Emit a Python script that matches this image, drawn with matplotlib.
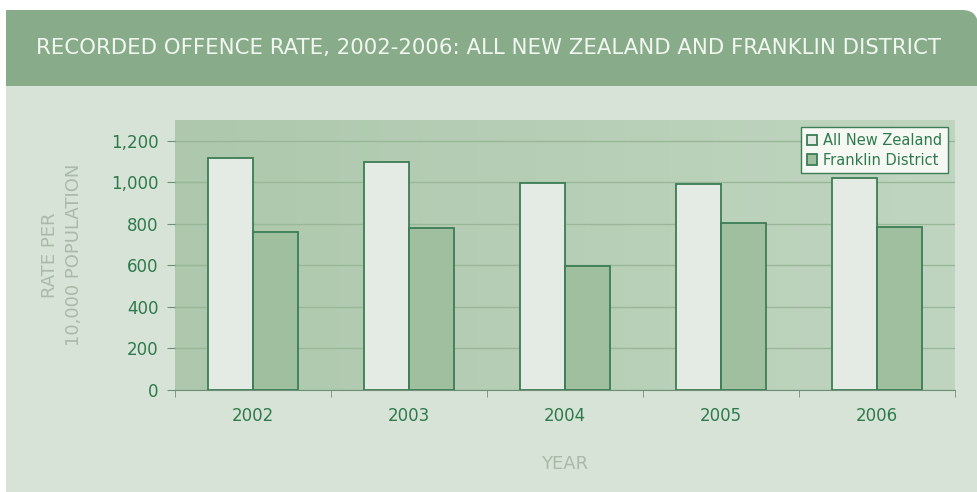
import numpy as np
import matplotlib.pyplot as plt
from matplotlib.colors import LinearSegmentedColormap
from matplotlib.patches import FancyBboxPatch, Rectangle

years = ["2002", "2003", "2004", "2005", "2006"]
all_nz = [1115, 1099, 998, 994, 1022]
franklin = [760, 778, 595, 802, 787]

dark_green = "#2f7a4c"
edge_green = "#3c7d55"
panel_bg = "#d6e3d6"
header_bg = "#88ac8a"

fig = plt.figure(figsize=(9.78, 4.92), dpi=100)
fig.patch.set_facecolor("white")

# card background + header band, in inches (100 px per inch)
inch = fig.dpi_scale_trans
fig.patches.append(Rectangle((0.06, 0), 9.8, 4.3, transform=inch, facecolor=panel_bg, edgecolor="none", zorder=-4))
fig.patches.append(Rectangle((0.06, 4.06), 9.2, 0.76, transform=inch, facecolor=header_bg, edgecolor="none", zorder=-3))
fig.patches.append(FancyBboxPatch((9.0, 4.06), 0.78, 0.76, boxstyle="round,pad=0,rounding_size=0.16",
                                  transform=inch, facecolor=header_bg, edgecolor="none", zorder=-3))
fig.patches.append(Rectangle((9.0, 4.06), 0.78, 0.3, transform=inch, facecolor=header_bg, edgecolor="none", zorder=-3))

fig.text(0.5, (492 - 48) / 492, "RECORDED OFFENCE RATE, 2002-2006: ALL NEW ZEALAND AND FRANKLIN DISTRICT",
         ha="center", va="center", color="#f2f6f0", fontsize=15.3)

ax = fig.add_axes([175 / 978, (492 - 390) / 492, (955 - 175) / 978, 270 / 492])
ax.set_zorder(1)
ax.set_facecolor("#b7cfb7")
# soft horizontal shading of the plot area
grad = np.linspace(0, 1, 256).reshape(1, -1)
cmap = LinearSegmentedColormap.from_list("g", ["#adc8ad", "#c0d5c0"])
ax.imshow(grad, extent=[-0.5, 4.5, 0, 1300], aspect="auto", cmap=cmap, zorder=0)

x = np.arange(len(years))
w = 0.29
ax.bar(x - w / 2, all_nz, w, color="#e4ebe4", edgecolor=edge_green, linewidth=1.3, label="All New Zealand", zorder=3)
ax.bar(x + w / 2, franklin, w, color="#9fbf9f", edgecolor=edge_green, linewidth=1.3, label="Franklin District", zorder=3)

ax.set_xlim(-0.5, 4.5)
ax.set_ylim(0, 1300)
ax.set_yticks([0, 200, 400, 600, 800, 1000, 1200])
ax.set_yticklabels(["0", "200", "400", "600", "800", "1,000", "1,200"])
ax.yaxis.grid(True, color="#98b898", linewidth=1, zorder=1)
ax.set_axisbelow(True)
ax.set_xticks(x)
ax.set_xticklabels(years)
ax.set_xticks(np.arange(-0.5, 5, 1), minor=True)
ax.tick_params(axis="x", which="major", length=0, pad=12, labelsize=12, labelcolor=dark_green)
ax.tick_params(axis="x", which="minor", length=5, color="#6f8f78")
ax.tick_params(axis="y", length=6, color="#6f8f78", labelsize=12, labelcolor=dark_green, pad=6)
for s in ["top", "right", "left"]:
    ax.spines[s].set_visible(False)
ax.spines["bottom"].set_color("#6f8f78")

ax.set_ylabel("RATE PER\n10,000 POPULATION", color="#a9baa9", fontsize=13, labelpad=20, linespacing=1.4)
ax.set_xlabel("YEAR", color="#a9baa9", fontsize=13, labelpad=22)

leg = ax.legend(loc="upper right", bbox_to_anchor=(1.0, 1.0), fontsize=10.5, frameon=True, fancybox=False,
                handlelength=0.7, handleheight=0.7, handletextpad=0.4, borderpad=0.4, labelspacing=0.3)
leg.get_frame().set_facecolor("#f5f8f3")
leg.get_frame().set_edgecolor(edge_green)
leg.get_frame().set_alpha(1)
for t in leg.get_texts():
    t.set_color(dark_green)

fig.savefig("out.png", dpi=100, facecolor=fig.get_facecolor())
